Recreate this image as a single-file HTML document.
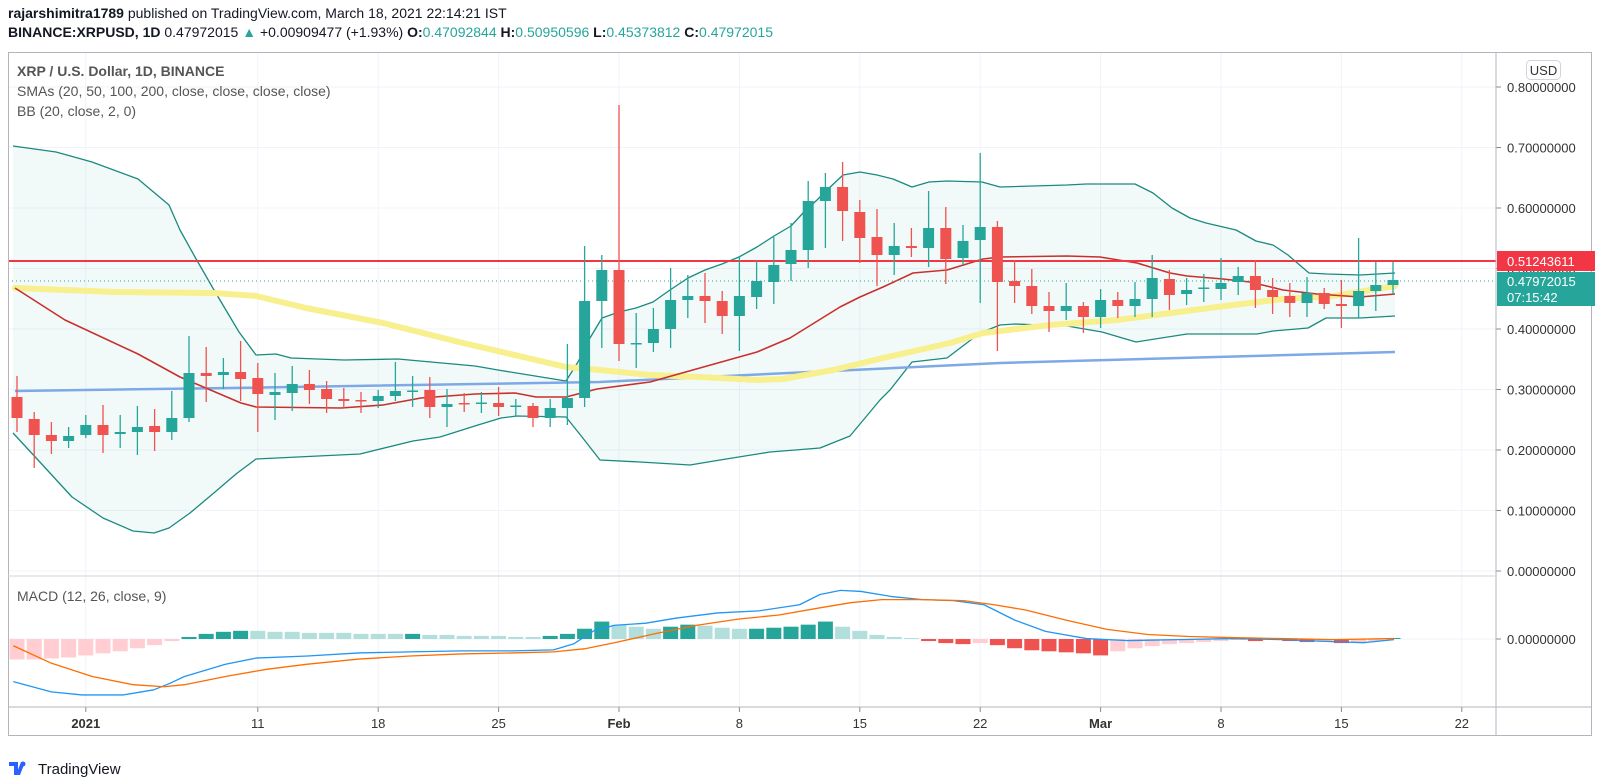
<!DOCTYPE html>
<html><head><meta charset="utf-8"><style>
body{margin:0;background:#fff;width:1600px;height:781px;overflow:hidden;font-family:"Liberation Sans",sans-serif}
#h1{position:absolute;left:8px;top:5px;font-size:14px;color:#131722}
#h2{position:absolute;left:8px;top:24px;font-size:14px;color:#131722}
.t{color:#26a69a}
svg{position:absolute;left:0;top:0}
</style></head><body>
<div id="h1"><b>rajarshimitra1789</b> published on TradingView.com, March 18, 2021 22:14:21 IST</div>
<div id="h2"><b>BINANCE:XRPUSD, 1D</b> 0.47972015 <span class="t">▲</span> +0.00909477 (+1.93%) <b>O:</b><span class="t">0.47092844</span> <b>H:</b><span class="t">0.50950596</span> <b>L:</b><span class="t">0.45373812</span> <b>C:</b><span class="t">0.47972015</span></div>
<svg id="s" width="1600" height="781" xmlns="http://www.w3.org/2000/svg"></svg>
<script>
const S=document.getElementById('s');let h='';
const X=d=>619+17.2*d;
// grid
const dates=[[-31,'2021'],[-21,'11'],[-14,'18'],[-7,'25'],[0,'Feb'],[7,'8'],[14,'15'],[21,'22'],[28,'Mar'],[35,'8'],[42,'15'],[49,'22']];
dates.forEach(([d,l])=>{const x=X(d);h+=`<line x1="${x}" y1="52" x2="${x}" y2="707" stroke="#f0f3fa" stroke-width="1"/>`;
h+=`<line x1="${x}" y1="707" x2="${x}" y2="712" stroke="#888"/>`;
h+=`<text x="${x}" y="728" font-size="13" fill="#333" text-anchor="middle" ${l=='2021'||l=='Feb'||l=='Mar'?'font-weight="bold"':''}>${l}</text>`;});
for(let i=0;i<=8;i++){const y=571-60.5*i;h+=`<line x1="8" y1="${y}" x2="1496" y2="${y}" stroke="#f0f3fa"/>`;
h+=`<line x1="1496" y1="${y}" x2="1501" y2="${y}" stroke="#888"/><text x="1507" y="${y+5}" font-size="13" fill="#333">0.${i}0000000</text>`;}
h+=`<line x1="8" y1="639" x2="1496" y2="639" stroke="#f0f3fa"/><line x1="1496" y1="639" x2="1501" y2="639" stroke="#888"/><text x="1507" y="644" font-size="13" fill="#333">0.00000000</text>`;
const sc=a=>a.map(p=>p.map(v=>v*1.025));
const pl=(pts,c,w,extra='')=>`<polyline points="${pts.map(p=>p.join(',')).join(' ')}" fill="none" stroke="${c}" stroke-width="${w}" stroke-linejoin="round" ${extra}/>`;
// BB
const up=[[13,146],[56,152],[92,162],[138,179],[169,205],[180,230],[195,257],[214,290],[239,332],[256,355],[276,354],[291,358],[344,360],[398,359],[475,366],[498,370],[566,381],[578,362],[590,338],[602,318],[619,312],[636,308],[653,302],[670,290],[688,278],[705,270],[722,264],[739,257],[757,247],[774,236],[791,226],[803,213],[817,200],[827,190],[843,175],[860,172],[877,175],[893,179],[912,187],[929,182],[947,181],[982,182],[1000,187],[1067,185],[1086,184],[1135,184],[1153,193],[1172,208],[1190,218],[1206,223],[1236,230],[1256,241],[1273,245],[1288,255],[1309,273],[1327,274],[1360,275],[1395,273]];
const lo=[[13,433],[38,460],[72,497],[103,518],[133,531],[154,533],[169,528],[190,513],[215,492],[236,474],[256,459],[360,454],[413,441],[440,437],[478,425],[501,418],[517,416],[566,417],[582,437],[600,460],[640,462],[690,465],[720,460],[770,452],[820,448],[850,436],[880,400],[890,390],[912,362],[947,358],[980,333],[1000,325],[1015,324],[1067,326],[1102,332],[1136,342],[1187,334],[1257,334],[1273,331],[1308,328],[1326,318],[1360,318],[1395,316]];
h+=`<polygon points="${up.map(p=>p.join(',')).join(' ')} ${lo.slice().reverse().map(p=>p.join(',')).join(' ')}" fill="rgba(38,166,154,0.06)"/>`;
h+=pl(up,'#1a8a7f',1.3)+pl(lo,'#1a8a7f',1.3);
// SMA200
h+=pl([[15,391],[230,388],[600,382],[1000,363],[1395,352]],'#7ea9e6',2.5);
// SMA50
h+=pl([[15,288],[115,292],[214,293],[256,296],[306,308],[383,323],[459,342],[566,367],[600,370],[650,375],[700,377],[757,380],[783,379],[833,370],[883,358],[950,343],[983,333],[1050,325],[1117,320],[1217,307],[1283,299],[1333,296],[1395,286]],'#f8ef8e',6,'stroke-linecap="round"');
// SMA20
h+=pl([[15,288],[65,320],[138,354],[180,377],[241,403],[256,407],[341,408],[383,405],[421,398],[475,394],[515,393],[536,397],[566,397],[597,389],[650,382],[707,366],[757,352],[790,338],[840,307],[860,297],[883,287],[913,273],[947,270],[983,259],[1000,257],[1067,256],[1100,257],[1137,263],[1170,273],[1187,276],[1223,279],[1250,282],[1283,290],[1317,294],[1360,297],[1395,294]],'#c8302c',1.6);
// horizontal lines
h+=`<line x1="8" y1="261" x2="1496" y2="261" stroke="#f23645" stroke-width="2"/>`;
h+=`<line x1="8" y1="281" x2="1496" y2="281" stroke="#26a69a" stroke-width="1" stroke-dasharray="1,3"/>`;
// candles
const C=[[397,376,432,418],[419,412,468,435],[435,422,454,441],[441,427,448,436],[435,415,438,425],[425,405,453,435],[434,415,448,432],[432,406,455,427],[426,409,451,432],[432,391,440,418],[418,336,422,373],[373,347,402,376],[375,358,389,372],[372,341,401,379],[378,363,432,394],[395,373,420,392],[393,366,411,384],[384,370,404,390],[389,381,413,399],[399,388,408,401],[400,392,413,401],[401,390,408,396],[396,362,401,391],[391.5,376,407,390.5],[390,377,418,407],[407,389,427,404],[403,393,412,404.5],[403.5,392,413,402.5],[403,387,416,407],[406.5,399,416,405.5],[406,403,427,418],[418,399,427,408],[408,344,425,398],[398,246,407,301],[301,255,348,270],[270,105,361,344],
[344,313,368,343],[343,308,352,329],[329,268,348,300],[300,275,318,296],[296,273,323,301],[301,291,334,316],[316,256,351,296],[297,261,309,281],[282,237,304,265],[264,223,281,250],[250,181,268,201],[201,173,248,187],[187,162,241,211],[212,200,263,238],[237,209,286,255],[255,223,275,246],[246,228,257,248],[248,191,267,228],[228,207,284,259],[258,225,265,241],[240,153,303,227],[227,221,351,282],[281,260,303,286],[286,269,314,306],[306,292,332,311],[311,283,320,306],[306,302,333,317],[317,289,328,300],[300,292,318,306],[306,282,317,299],[299,255,317,278],[279,270,310,295],[294,278,305,290],[288.5,274,302,287.5],[289,258,300,283],[282,267,295,276],[276,260,308,290],[290,278,314,297],[296,283,317,303],[303,277,317,293],[293,288,309,304],[304,280,328,306],[306,238,318,291],[291,262,311,285],[285,262,294,280]];
C.forEach((c,i)=>{const d=i-35,x=X(d);let [o,hi,l,cl]=c;const g=cl<o;const col=g?'#26a69a':'#ef5350';
h+=`<line x1="${x}" y1="${hi}" x2="${x}" y2="${l}" stroke="${col}" stroke-width="1.3"/>`;
const t=Math.min(o,cl),bh=Math.max(Math.abs(o-cl),1.5);h+=`<rect x="${x-5.5}" y="${t}" width="11" height="${bh}" fill="${col}"/>`;});
// MACD histogram
const H=[[-20,'p'],[-20,'p'],[-19,'p'],[-18,'p'],[-16,'p'],[-14,'p'],[-12,'p'],[-9,'p'],[-6,'p'],[-2,'p'],[2,'g'],[5,'g'],[7,'g'],[8,'g'],[8,'l'],[7,'l'],[7,'l'],[6,'l'],[6,'l'],[6,'l'],[5,'l'],[5,'l'],[5,'l'],[5,'g'],[4,'l'],[4,'l'],[3,'l'],[3,'l'],[3,'l'],[2,'l'],[2,'l'],[3,'g'],[5,'g'],[10,'g'],[17,'g'],[14,'l'],[12,'l'],[10,'l'],[12,'g'],[14,'g'],[13,'l'],[11,'l'],[10,'l'],[10,'g'],[11,'g'],[12,'g'],[14,'g'],[17,'g'],[12,'l'],[8,'l'],[4,'l'],[2,'l'],[1,'l'],[-2,'r'],[-4,'r'],[-5,'r'],[-4,'p'],[-6,'r'],[-9,'r'],[-11,'r'],[-12,'r'],[-13,'r'],[-14,'r'],[-16,'r'],[-12,'p'],[-9,'p'],[-7,'p'],[-5,'p'],[-4,'p'],[-3,'p'],[-2,'p'],[-1,'p'],[-2,'r'],[-1,'p'],[-2,'r'],[-3,'r'],[-3,'p'],[-4,'r'],[-3,'p'],[-2,'p'],[1,'g']];
const HC={p:'#ffcdd2',g:'#26a69a',l:'#b2dfdb',r:'#ef5350'};
H.forEach(([v,c],i)=>{const x=X(i-35),hh=Math.abs(v)*1.025;const y=v>0?639-hh:639;h+=`<rect x="${x-7.5}" y="${y}" width="15" height="${Math.max(hh,1)}" fill="${HC[c]}"/>`;});
const mb=[[13,665],[50,675],[80,678],[120,678],[150,673],[165,667],[180,660],[220,648],[250,642],[300,640],[350,637],[400,636],[450,635],[500,635],[540,634],[560,628],[580,615],[600,610],[630,608],[660,603],[700,598],[740,596],[780,590],[800,580],[820,576],[840,577],[870,582],[900,585],[930,586],[960,590],[990,605],[1020,616],[1060,623],[1100,625],[1150,624],[1200,623],[1250,624],[1300,626],[1330,627],[1360,624]];
const ms=[[13,630],[50,647],[90,660],[130,668],[160,670],[180,668],[220,660],[260,653],[300,648],[350,643],[400,640],[450,638],[500,637],[540,636],[570,633],[600,627],[640,618],[680,610],[720,604],[760,600],[800,593],[830,588],[860,585],[900,585],[940,586],[970,590],[1000,595],[1040,605],[1080,614],[1120,619],[1160,621],[1200,622],[1250,623],[1300,624],[1360,623]];
h+=pl(sc(mb),'#2196f3',1.3)+pl(sc(ms),'#ff6d00',1.3);
// frame
h+=`<rect x="8.5" y="52.5" width="1583" height="683" fill="none" stroke="#b2b5be"/>`;
h+=`<line x1="1496" y1="52" x2="1496" y2="736" stroke="#b2b5be"/><line x1="8" y1="576" x2="1496" y2="576" stroke="#d1d4dc"/><line x1="8" y1="707" x2="1592" y2="707" stroke="#b2b5be"/>`;
// legend
h+=`<text x="17" y="76" font-size="14" font-weight="bold" fill="#555">XRP / U.S. Dollar, 1D, BINANCE</text>`;
h+=`<text x="17" y="96" font-size="14" fill="#555">SMAs (20, 50, 100, 200, close, close, close, close)</text>`;
h+=`<text x="17" y="116" font-size="14" fill="#555">BB (20, close, 2, 0)</text>`;
h+=`<text x="17" y="601" font-size="14" fill="#555">MACD (12, 26, close, 9)</text>`;
h+=`<rect x="1526.5" y="60.5" width="34" height="19" rx="4" fill="#fff" stroke="#d1d4dc"/><text x="1543.5" y="75" font-size="13" fill="#333" text-anchor="middle">USD</text>`;
h+=`<rect x="1497" y="251" width="98" height="20" fill="#f23645"/><text x="1507" y="266" font-size="13" fill="#fff">0.51243611</text>`;
h+=`<rect x="1497" y="272" width="98" height="34" fill="#26a69a"/><text x="1507" y="286" font-size="13" fill="#fff">0.47972015</text><text x="1507" y="302" font-size="13" fill="#fff">07:15:42</text>`;
// footer logo
h+=`<g transform="translate(9,758)"><path d="M0 4h9v13h-4V8H0z M9 4 M12 4h4l-5 13h-4z" fill="#2962ff"/><circle cx="14" cy="6" r="2.5" fill="#2962ff"/></g><text x="38" y="774" font-size="15" fill="#131722">TradingView</text>`;
S.innerHTML=h;
</script>
</body></html>
